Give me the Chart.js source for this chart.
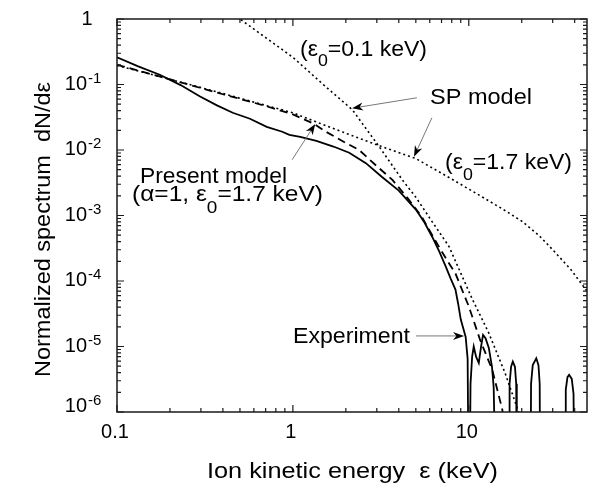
<!DOCTYPE html>
<html>
<head>
<meta charset="utf-8">
<script src="https://cdn.jsdelivr.net/npm/chart.js@4.4.1/dist/chart.umd.min.js"></script>
<style>
    html, body { margin: 0; padding: 0; background: #fff; }
    #wrap { width: 593px; height: 487px; }
</style>
</head>
<body>
<div id="wrap"><canvas id="Chart" width="593" height="487"></canvas></div>
<script>
// Experiment (solid)
const expX = [0.1, 0.132, 0.175, 0.23, 0.295, 0.37, 0.455, 0.57, 0.71, 0.87, 0.955, 1.1, 1.36, 1.7, 2.09, 2.6, 3.2, 4.0, 5.0, 5.6, 6.2, 6.8, 7.4, 7.9, 8.4, 8.7, 9.0, 9.3, 9.6, 9.85, 9.97,
    10.12, 10.23, 10.45, 10.67, 11.0, 11.4, 11.75, 12.05, 12.45, 13.0, 13.55, 13.85, 14.2,
    16.95, 17.06, 17.4, 17.8, 18.3, 18.6, 18.75,
    22.45, 22.6, 23.1, 24.2, 24.9, 25.3, 25.45,
    35.3, 35.6, 36.4, 37.2, 38.5, 39.4, 39.8];
const expY = [0.26, 0.189, 0.141, 0.098, 0.066, 0.048, 0.037, 0.03, 0.0225, 0.019, 0.017, 0.0158, 0.0138, 0.0113, 0.0091, 0.0063, 0.0039, 0.0024, 0.00123, 0.00078, 0.00047, 0.00028, 0.000166, 0.000108, 0.000074, 0.000045, 0.000026, 0.000019, 0.000014, 0.0000065, 1e-7,
    1e-7, 2.7e-6, 7e-6, 1e-5, 7e-6, 5.6e-6, 1e-5, 1.5e-5, 1.34e-5, 9.5e-6, 4.9e-6, 2.4e-6, 1e-7,
    1e-7, 2.7e-6, 4.9e-6, 5.9e-6, 4.9e-6, 2.7e-6, 1e-7,
    1e-7, 2.7e-6, 5.2e-6, 6.6e-6, 5.2e-6, 2.7e-6, 1e-7,
    1e-7, 2.2e-6, 3.4e-6, 3.7e-6, 3.2e-6, 1.9e-6, 1e-7];

// Present model (dashed)
const presX = [0.1, 0.2, 0.4, 0.7, 1.0, 1.32, 1.54, 2.0, 2.38, 2.95, 3.68, 4.57, 5.4, 6.5, 7.5, 8.4, 10.0, 11.6, 13.6, 15.5, 17];
const presY = [0.2, 0.12, 0.071, 0.047, 0.035, 0.025, 0.019, 0.0128, 0.01, 0.0059, 0.0035, 0.00174, 0.00096, 0.0004, 0.00021, 0.00013, 0.000041, 0.0000126, 0.0000044, 0.0000011, 1.5e-7];

// SP model, eps0 = 1.7 keV (dotted)
const sp17X = [0.1, 0.2, 0.4, 0.7, 1.0, 1.35, 2.0, 3.0, 5.0, 8.0, 12, 16, 20, 25, 30, 38, 47];
const sp17Y = [0.195, 0.12, 0.073, 0.048, 0.037, 0.027, 0.018, 0.012, 0.0074, 0.0036, 0.0019, 0.0012, 0.00082, 0.0005, 0.0003, 0.00015, 0.00007];

// SP model, eps0 = 0.1 keV (dotted)
const sp01X = [0.42, 0.5, 0.7, 1.0, 1.5, 2.18, 3.09, 4.19, 5.0, 6.2, 7.7, 10.5, 13, 16.1, 19.2, 22];
const sp01Y = [1.6, 1.0, 0.52, 0.26, 0.098, 0.041, 0.0113, 0.0035, 0.0019, 0.0008, 0.00034, 0.000052, 0.000016, 0.0000039, 0.000001, 2.5e-7];

// tick labels
const xTickVals = [0.1, 1, 10];
const xTickText = ['0.1', '1', '10'];
const yTickVals = [1, 1e-1, 1e-2, 1e-3, 1e-4, 1e-5, 1e-6];
const yTickExp = ['', '-1', '-2', '-3', '-4', '-5', '-6'];

const FONT = '"Liberation Sans", Arial, Helvetica, sans-serif';

function pts(xs, ys) {
    return xs.map((x, i) => ({x: x, y: ys[i]}));
}

// 2..9 of every decade between lo and hi
function minorTicks(lo, hi) {
    const out = [];
    for (let d = Math.floor(Math.log10(lo)); d <= Math.ceil(Math.log10(hi)); d++) {
        for (let k = 2; k <= 9; k++) {
            const v = k * Math.pow(10, d);
            if (v > lo * 1.0001 && v < hi * 0.9999) out.push(v);
        }
    }
    return out;
}

// text made of parts [string, isSub], left at x, baseline y, squeezed/stretched to width w
function rich(c, parts, x, y, w, size, subSize, subDy) {
    c.save();
    c.textBaseline = 'alphabetic';
    c.textAlign = 'left';
    let total = 0;
    parts.forEach(p => {
        c.font = (p[1] ? subSize : size) + 'px ' + FONT;
        total += c.measureText(p[0]).width;
    });
    const k = w ? w / total : 1;
    c.translate(x, y);
    c.scale(k, 1);
    let cx = 0;
    parts.forEach(p => {
        c.font = (p[1] ? subSize : size) + 'px ' + FONT;
        c.fillText(p[0], cx, p[1] ? subDy : 0);
        cx += c.measureText(p[0]).width;
    });
    c.restore();
}

function arrow(c, x1, y1, x2, y2) {
    const a = Math.atan2(y2 - y1, x2 - x1);
    const len = 11, hw = 4;
    c.save();
    c.strokeStyle = '#777';
    c.lineWidth = 1;
    c.beginPath();
    c.moveTo(x1, y1);
    c.lineTo(x2 - Math.cos(a) * 6, y2 - Math.sin(a) * 6);
    c.stroke();
    c.fillStyle = '#000';
    c.beginPath();
    c.moveTo(x2, y2);
    c.lineTo(x2 - len * Math.cos(a) + hw * Math.sin(a), y2 - len * Math.sin(a) - hw * Math.cos(a));
    c.lineTo(x2 - 0.7 * len * Math.cos(a), y2 - 0.7 * len * Math.sin(a));
    c.lineTo(x2 - len * Math.cos(a) - hw * Math.sin(a), y2 - len * Math.sin(a) + hw * Math.cos(a));
    c.closePath();
    c.fill();
    c.restore();
}

// arrows: [tail x, tail y, tip x, tip y] in data units
const arrows = [
    [0.99, 0.0071, 1.34, 0.025],
    [5.07, 0.0627, 2.17, 0.0434],
    [6.17, 0.031, 4.88, 0.0079],
    [5.01, 1.45e-5, 9.4, 1.45e-5]
];

const frame = {
    id: 'frame',
    afterDraw(chart) {
        const c = chart.ctx;
        const a = chart.chartArea;
        const sx = chart.scales.x, sy = chart.scales.y;
        c.save();
        // box
        c.strokeStyle = '#1a1a1a';
        c.lineWidth = 1.5;
        c.strokeRect(a.left, a.top, a.right - a.left, a.bottom - a.top);
        // inward ticks
        c.lineWidth = 1.2;
        c.beginPath();
        const xt = xTickVals.map(v => [v, 7]).concat(minorTicks(sx.min, sx.max).map(v => [v, 4]));
        xt.forEach(t => {
            const px = sx.getPixelForValue(t[0]);
            c.moveTo(px, a.bottom); c.lineTo(px, a.bottom - t[1]);
            c.moveTo(px, a.top); c.lineTo(px, a.top + t[1]);
        });
        const yt = yTickVals.map(v => [v, 7]).concat(minorTicks(sy.min, sy.max).map(v => [v, 4]));
        yt.forEach(t => {
            const py = sy.getPixelForValue(t[0]);
            c.moveTo(a.left, py); c.lineTo(a.left + t[1], py);
            c.moveTo(a.right, py); c.lineTo(a.right - t[1], py);
        });
        c.stroke();

        // tick labels
        c.fillStyle = '#000';
        c.font = '20px ' + FONT;
        c.textAlign = 'center';
        c.textBaseline = 'alphabetic';
        xTickVals.forEach((v, i) => {
            c.fillText(xTickText[i], sx.getPixelForValue(v) - 2, a.bottom + 26);
        });
        yTickVals.forEach((v, i) => {
            const py = sy.getPixelForValue(v);
            if (yTickExp[i] === '') {
                c.font = '20px ' + FONT;
                c.textAlign = 'center';
                c.fillText('1', 87, py + 6);
                return;
            }
            const shift = i === yTickVals.length - 1 ? -5 : 0;
            c.font = '20px ' + FONT;
            c.textAlign = 'right';
            c.fillText('10', 87, py + 5 + shift);
            c.font = '15px ' + FONT;
            c.textAlign = 'left';
            c.fillText(yTickExp[i], 88, py - 2 + shift);
        });

        // axis titles
        c.save();
        c.translate(50, 229.5);
        c.rotate(-Math.PI / 2);
        rich(c, [['Normalized spectrum  dN/d\u03b5', false]], -147.5, 0, 295, 22, 16, 0);
        c.restore();
        rich(c, [['Ion kinetic energy  \u03b5 (keV)', false]], 207, 478, 291, 22, 16, 0);

        // annotations
        rich(c, [['(\u03b5', false], ['0', true], ['=0.1 keV)', false]], 300, 56, 127, 22, 17, 10);
        rich(c, [['SP model', false]], 430, 103.5, 102, 22, 17, 0);
        rich(c, [['(\u03b5', false], ['0', true], ['=1.7 keV)', false]], 445, 168.5, 127, 22, 17, 11);
        rich(c, [['Present model', false]], 140, 182.5, 147, 22, 17, 0);
        rich(c, [['(\u03b1=1, \u03b5', false], ['0', true], ['=1.7 keV)', false]], 132, 201, 191, 22, 17, 12);
        rich(c, [['Experiment', false]], 293, 343, 117, 22, 17, 0);

        arrows.forEach(r => {
            arrow(c, sx.getPixelForValue(r[0]), sy.getPixelForValue(r[1]),
                sx.getPixelForValue(r[2]), sy.getPixelForValue(r[3]));
        });
        c.restore();
    }
};

const ctx = document.getElementById('Chart');
const chart = new Chart(ctx, {
    type: 'line',
    data: {
        datasets: [
            {
                label: 'Experiment',
                data: pts(expX, expY),
                borderColor: '#000',
                borderWidth: 1.8
            },
            {
                label: 'Present model',
                data: pts(presX, presY),
                borderColor: '#000',
                borderWidth: 1.8,
                borderDash: [8, 5]
            },
            {
                label: 'SP model 1.7 keV',
                data: pts(sp17X, sp17Y),
                borderColor: '#000',
                borderWidth: 1.6,
                borderDash: [2, 3]
            },
            {
                label: 'SP model 0.1 keV',
                data: pts(sp01X, sp01Y),
                borderColor: '#000',
                borderWidth: 1.6,
                borderDash: [2, 3]
            }
        ]
    },
    options: {
        responsive: false,
        animation: false,
        layout: {padding: {left: 117, right: 6, top: 19, bottom: 75}},
        elements: {
            point: {radius: 0},
            line: {tension: 0, fill: false}
        },
        plugins: {
            legend: {display: false},
            tooltip: {enabled: false}
        },
        scales: {
            x: {type: 'logarithmic', min: 0.1, max: 47, display: false},
            y: {type: 'logarithmic', min: 1e-6, max: 1, display: false}
        }
    },
    plugins: [frame]
});
</script>
</body>
</html>
